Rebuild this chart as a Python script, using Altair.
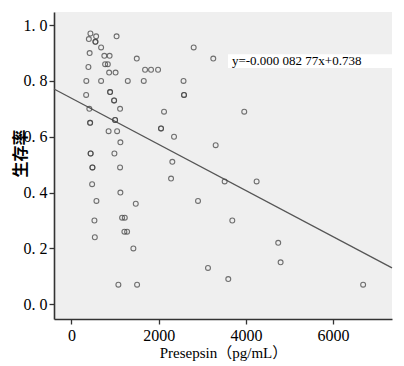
import altair as alt
import pandas as pd

# Presepsin (pg/mL) and survival rate
presepsin = [435, 566, 399, 550, 550, 1035, 680, 417, 754, 875, 772, 834, 389, 864, 1012,
             1498, 1688, 1825, 1986, 2803, 341, 680, 1292, 1658, 2570, 2581, 2581, 337,
             886, 886, 978, 978, 1115, 410, 2123, 428, 428, 1001, 1001, 852, 1047,
             2054, 2054, 2352, 1122, 440, 440, 985, 481, 481, 1115, 2313, 2284,
             3252, 3962, 3307, 3513, 4246, 474, 1122, 573, 1475, 527, 1161, 1223,
             536, 1214, 1276, 1420, 1076, 1505, 2902, 3688, 4741, 4796, 3131, 3596, 6688]
survival = [0.97, 0.96, 0.95, 0.94, 0.94, 0.96, 0.92, 0.90, 0.89, 0.89, 0.86, 0.86, 0.85, 0.83, 0.83,
            0.88, 0.84, 0.84, 0.84, 0.92, 0.80, 0.80, 0.80, 0.80, 0.80, 0.75, 0.75, 0.75,
            0.76, 0.76, 0.73, 0.73, 0.70, 0.70, 0.69, 0.65, 0.65, 0.66, 0.66, 0.62, 0.62,
            0.63, 0.63, 0.60, 0.58, 0.54, 0.54, 0.54, 0.49, 0.49, 0.49, 0.51, 0.45,
            0.88, 0.69, 0.57, 0.44, 0.44, 0.43, 0.40, 0.37, 0.36, 0.30, 0.31, 0.31,
            0.24, 0.26, 0.26, 0.20, 0.07, 0.07, 0.37, 0.30, 0.22, 0.15, 0.13, 0.09, 0.07]

# regression line end points (y = -0.00008277x + 0.738)
line_x = [-400, 7350]
line_y = [0.771, 0.130]

label_text = ["y=-0.000 082 77x+0.738"]
label_x = [3680]
label_y = [0.871]
box_x = [3590]
box_x2 = [7350]
box_y = [0.846]
box_y2 = [0.896]

x_ticks = [0, 2000, 4000, 6000]
y_ticks = [0.0, 0.2, 0.4, 0.6, 0.8, 1.0]

pts = pd.DataFrame({"x": presepsin, "y": survival})
ln = pd.DataFrame({"x": line_x, "y": line_y})
lab = pd.DataFrame({"t": label_text, "x": label_x, "y": label_y,
                    "bx": box_x, "bx2": box_x2, "by": box_y, "by2": box_y2})

serif = "Liberation Serif, Noto Sans CJK SC"

xs = alt.Scale(domain=[-400, 7350], nice=False, zero=False)
ys = alt.Scale(domain=[-0.053, 1.047], nice=False, zero=False)

xax = alt.Axis(values=x_ticks, format="d", title="Presepsin（pg/mL）", grid=False,
               labelFont=serif, labelFontSize=16, titleFont=serif, titleFontSize=15,
               titleFontWeight="normal", titlePadding=2, labelPadding=3,
               domainColor="#333333", domainWidth=1.6, tickColor="#333333",
               tickSize=5, tickWidth=1.3, labelColor="black", titleColor="black")
yax = alt.Axis(values=y_ticks, title="生存率", grid=False,
               labelExpr="replace(format(datum.value, '.1f'), '.', '. ')",
               labelFont=serif, labelFontSize=16, titleFont="Noto Sans CJK SC",
               titleFontSize=16, titleFontWeight="bold", labelPadding=2,
               titleX=-26, titleY=141,
               domainColor="#333333", domainWidth=1.6, tickColor="#333333",
               tickSize=5, tickWidth=1.3, labelColor="black", titleColor="black")

points = alt.Chart(pts).mark_point(shape="circle", size=24, filled=False,
                                   strokeWidth=1.1, color="#444444", opacity=0.75).encode(
    x=alt.X("x:Q", scale=xs, axis=xax),
    y=alt.Y("y:Q", scale=ys, axis=yax),
)

reg = alt.Chart(ln).mark_line(color="#555555", strokeWidth=1.3).encode(
    x=alt.X("x:Q", scale=xs),
    y=alt.Y("y:Q", scale=ys),
)

box = alt.Chart(lab).mark_rect(color="white").encode(
    x=alt.X("bx:Q", scale=xs), x2="bx2:Q",
    y=alt.Y("by:Q", scale=ys), y2="by2:Q",
)

txt = alt.Chart(lab).mark_text(align="left", baseline="middle", font=serif,
                               fontSize=13, color="black").encode(
    x=alt.X("x:Q", scale=xs),
    y=alt.Y("y:Q", scale=ys),
    text="t:N",
)

chart = alt.layer(reg, points, box, txt).properties(
    width=338, height=307,
    autosize=alt.AutoSizeParams(type="none"),
    padding={"left": 46, "top": 4, "right": 4, "bottom": 46},
    background="white",
).configure_view(fill="#efefef", stroke=None)

chart.save("out.html", embed_options={"renderer": "svg", "actions": False})
